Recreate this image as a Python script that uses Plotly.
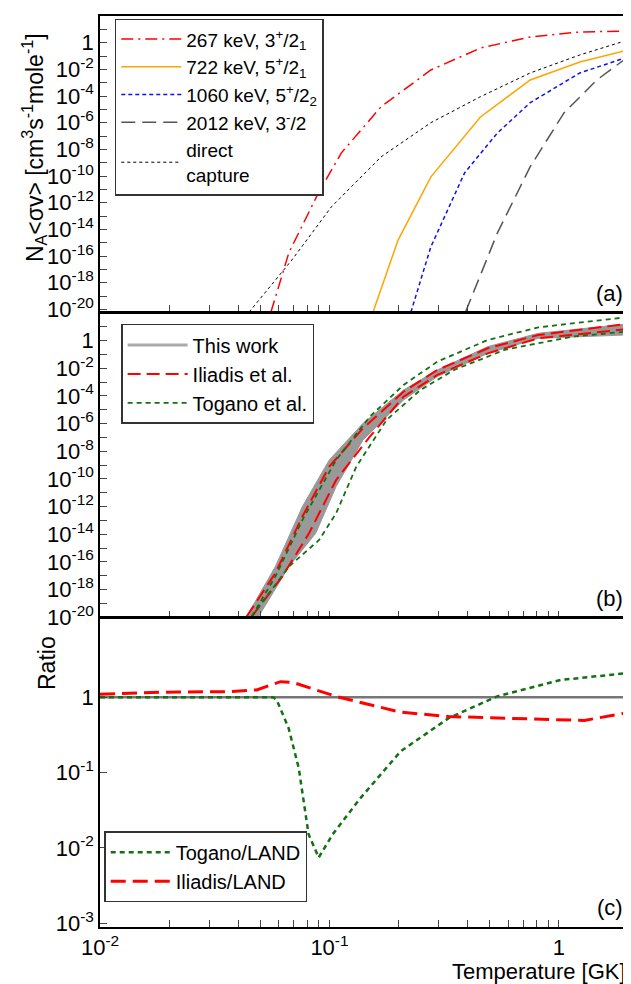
import numpy as np
import plotly.graph_objects as go

# ---- data (log10 T [GK], log10 rate) ----
# panel (a): resonance contributions
r267_logT = [-1.255, -1.177, -1.048, -0.948, -0.775, -0.558, -0.342, -0.125, 0.091, 0.301]
r267_logy = [-20.2, -15.75, -11.26, -8.26, -4.8, -2.05, -0.4, 0.43, 0.8, 0.88]
r722_logT = [-0.81, -0.701, -0.558, -0.342, -0.125, 0.091, 0.301]
r722_logy = [-20.2, -14.8, -10.06, -5.57, -2.8, -1.45, -0.55]
r1060_logT = [-0.645, -0.558, -0.411, -0.268, -0.125, 0.091, 0.301]
r1060_logy = [-20.2, -15.3, -9.76, -6.77, -4.5, -2.27, -1.07]
r2012_logT = [-0.407, -0.268, -0.125, 0.022, 0.165, 0.301]
r2012_logy = [-20.2, -14.26, -9.3, -5.27, -2.8, -1.07]
dc_logT = [-1.35, -1.164, -0.991, -0.775, -0.558, -0.342, -0.125, 0.091, 0.301]
dc_logy = [-20.2, -16.3, -12.3, -8.56, -6.0, -4.05, -2.27, -0.92, 0.2]

# panel (b): total rates
band_hi_logT = [-1.361, -1.236, -1.118, -1.001, -0.854, -0.677, -0.530, -0.310, -0.090, 0.292]
band_hi_logy = [-19.95, -16.34, -12.0, -8.63, -5.98, -3.57, -2.12, -0.43, 0.53, 1.20]
band_lo_logT = [-1.309, -1.177, -1.060, -0.971, -0.854, -0.677, -0.530, -0.310, -0.090, 0.292]
band_lo_logy = [-19.95, -16.34, -13.93, -10.55, -7.18, -4.29, -2.60, -0.92, 0.17, 0.41]
ili_hi_logT = [-1.361, -1.236, -1.118, -1.001, -0.854, -0.677, -0.530, -0.310, -0.090, 0.292]
ili_hi_logy = [-19.95, -16.82, -12.72, -9.11, -6.34, -3.69, -2.12, -0.55, 0.41, 1.20]
ili_lo_logT = [-1.339, -1.206, -1.089, -0.971, -0.824, -0.677, -0.530, -0.310, -0.090, 0.292]
ili_lo_logy = [-19.95, -17.06, -13.93, -10.07, -6.94, -4.05, -2.48, -0.92, 0.17, 0.82]
tog_lo_logT = [-1.339, -1.177, -1.045, -0.971, -0.883, -0.751, -0.604, -0.457, -0.237, 0.057, 0.292]
tog_lo_logy = [-19.95, -16.34, -14.41, -12.48, -9.11, -5.73, -3.57, -2.12, -0.67, 0.29, 0.65]
tog_hi_logT = [-1.339, -1.236, -1.118, -0.971, -0.824, -0.677, -0.530, -0.310, -0.090, 0.292]
tog_hi_logy = [-19.95, -17.06, -12.96, -8.63, -5.49, -3.20, -1.52, 0.05, 0.96, 1.69]

# panel (c): ratios
ratio_ili_logT = [-2.0, -1.735, -1.439, -1.317, -1.213, -1.160, -0.969, -0.690, -0.481, -0.254, 0.111, 0.286]
ratio_ili_logy = [0.040, 0.066, 0.075, 0.097, 0.207, 0.198, 0.009, -0.198, -0.256, -0.278, -0.308, -0.211]
ratio_tog_logT = [-2.0, -1.247, -1.230, -1.178, -1.134, -1.091, -1.047, -0.986, -0.864, -0.690, -0.481, -0.272, 0.007, 0.286]
ratio_tog_logy = [0.0, 0.0, -0.035, -0.410, -0.938, -1.819, -2.128, -1.819, -1.335, -0.718, -0.278, 0.009, 0.229, 0.317]


def p(v):
    return 10 ** np.array(v)


fig = go.Figure()
FONT = "Liberation Sans, Arial, sans-serif"

# (a)
res_a = [
    (r267_logT, r267_logy, "267 keV, 3<sup>+</sup>/2<sub>1</sub>", dict(color="red", width=1.5, dash="12px,5px,2px,5px")),
    (r722_logT, r722_logy, "722 keV, 5<sup>+</sup>/2<sub>1</sub>", dict(color="#ffa500", width=1.5)),
    (r1060_logT, r1060_logy, "1060 keV, 5<sup>+</sup>/2<sub>2</sub>", dict(color="#1010ee", width=1.5, dash="4px,3px")),
    (r2012_logT, r2012_logy, "2012 keV, 3<sup>-</sup>/2", dict(color="#555555", width=1.5, dash="14px,7px")),
    (dc_logT, dc_logy, "direct<br>capture", dict(color="black", width=1, dash="dot")),
]
for i, (lx, ly, nm, ln) in enumerate(res_a):
    fig.add_trace(go.Scatter(x=p(lx), y=p(ly), mode="lines", name=nm, line=ln, legend="legend",
                             legendgroup="a%d" % i, xaxis="x", yaxis="y"))

# (b)
fig.add_trace(go.Scatter(x=p(band_hi_logT), y=p(band_hi_logy), mode="lines", line=dict(color="#999999", width=1),
                         showlegend=False, xaxis="x2", yaxis="y2"))
fig.add_trace(go.Scatter(x=p(band_lo_logT), y=p(band_lo_logy), mode="lines", line=dict(color="#999999", width=1),
                         fill="tonexty", fillcolor="#999999", showlegend=False, xaxis="x2", yaxis="y2"))
fig.add_trace(go.Scatter(x=[None], y=[None], mode="lines", name="This work", line=dict(color="#aaaaaa", width=3),
                         legend="legend2", xaxis="x2", yaxis="y2"))
fig.add_trace(go.Scatter(x=p(ili_hi_logT), y=p(ili_hi_logy), mode="lines", name="Iliadis et al.",
                         line=dict(color="red", width=2, dash="13px,6px"), legend="legend2", xaxis="x2", yaxis="y2"))
fig.add_trace(go.Scatter(x=p(ili_lo_logT), y=p(ili_lo_logy), mode="lines", showlegend=False,
                         line=dict(color="red", width=2, dash="13px,6px"), xaxis="x2", yaxis="y2"))
fig.add_trace(go.Scatter(x=p(tog_hi_logT), y=p(tog_hi_logy), mode="lines", name="Togano et al.",
                         line=dict(color="#137013", width=1.8, dash="5px,4px"), legend="legend2", xaxis="x2", yaxis="y2"))
fig.add_trace(go.Scatter(x=p(tog_lo_logT), y=p(tog_lo_logy), mode="lines", showlegend=False,
                         line=dict(color="#137013", width=1.8, dash="5px,4px"), xaxis="x2", yaxis="y2"))

# (c)
fig.add_trace(go.Scatter(x=[0.01, 2], y=[1, 1], mode="lines", line=dict(color="#777777", width=2.5),
                         showlegend=False, xaxis="x3", yaxis="y3"))
fig.add_trace(go.Scatter(x=p(ratio_tog_logT), y=p(ratio_tog_logy), mode="lines", name="Togano/LAND",
                         line=dict(color="#137013", width=2.5, dash="5px,4px"), legend="legend3", xaxis="x3", yaxis="y3"))
fig.add_trace(go.Scatter(x=p(ratio_ili_logT), y=p(ratio_ili_logy), mode="lines", name="Iliadis/LAND",
                         line=dict(color="red", width=3, dash="15px,7px"), legend="legend3", xaxis="x3", yaxis="y3"))


def ylabels(lo, hi, step=2):
    vals, txt = [], []
    for e in range(lo, hi + 1):
        vals.append(10.0 ** e)
        if e % step:
            txt.append("")
        elif e == 0:
            txt.append("1")
        else:
            txt.append("10<sup>%d</sup>" % e)
    return vals, txt


xt_vals = [0.01, 0.02, 0.03, 0.04, 0.05, 0.06, 0.07, 0.08, 0.09, 0.1, 0.2, 0.3, 0.4, 0.5, 0.6, 0.7, 0.8, 0.9, 1, 2]
xt_text = ["10<sup>-2</sup>"] + [""] * 8 + ["10<sup>-1</sup>"] + [""] * 8 + ["1", ""]

axis_common = dict(type="log", showgrid=False, zeroline=False, ticks="inside", ticklen=7, showline=True,
                   linecolor="black", linewidth=1.5, mirror=True, tickfont=dict(size=22, color="black", family=FONT))
xax = dict(axis_common, range=[-2, np.log10(2)], tickvals=xt_vals)

dom_a = [0.675, 1.0]
dom_b = [0.340, 0.674]
dom_c = [0.0, 0.339]

ya_v, ya_t = ylabels(-20, 2)
yb_v, yb_t = ylabels(-20, 1)
yc_v, yc_t = ylabels(-3, 0, 1)

leg_box = dict(xanchor="left", yanchor="top", bordercolor="#333", borderwidth=1.5, bgcolor="white",
               traceorder="normal", itemwidth=60)

fig.update_layout(
    width=623, height=976, plot_bgcolor="white", paper_bgcolor="white",
    margin=dict(l=92, r=1, t=8, b=57),
    font=dict(family=FONT, color="black"),
    xaxis=dict(xax, anchor="y", ticktext=[""] * len(xt_vals)),
    xaxis2=dict(xax, anchor="y2", ticktext=[""] * len(xt_vals)),
    xaxis3=dict(xax, anchor="y3", ticktext=xt_text),
    yaxis=dict(axis_common, domain=dom_a, range=[-20.2, 2], tickvals=ya_v, ticktext=ya_t, anchor="x"),
    yaxis2=dict(axis_common, domain=dom_b, range=[-20, 2], tickvals=yb_v, ticktext=yb_t, anchor="x2"),
    yaxis3=dict(axis_common, domain=dom_c, range=[-3.05, 1.05], tickvals=yc_v, ticktext=yc_t, anchor="x3"),
    legend=dict(leg_box, x=0.028, y=0.997, font=dict(size=19), tracegroupgap=32),
    legend2=dict(leg_box, x=0.04, y=0.662, font=dict(size=20)),
    legend3=dict(leg_box, x=0.008, y=0.105, font=dict(size=20), tracegroupgap=10),
    showlegend=True,
)

ann = [
    dict(text="(a)", x=0.995, y=dom_a[0] + 0.005, xanchor="right", yanchor="bottom", font=dict(size=22)),
    dict(text="(b)", x=0.995, y=dom_b[0] + 0.005, xanchor="right", yanchor="bottom", font=dict(size=22)),
    dict(text="(c)", x=0.995, y=dom_c[0] + 0.005, xanchor="right", yanchor="bottom", font=dict(size=22)),
    dict(text="N<sub>A</sub><σv> [cm<sup>3</sup>s<sup>-1</sup>mole<sup>-1</sup>]", x=-0.125, y=0.855,
         xanchor="center", yanchor="middle", textangle=-90, font=dict(size=23)),
    dict(text="Ratio", x=-0.1, y=0.29, xanchor="center", yanchor="middle", textangle=-90, font=dict(size=23)),
    dict(text="Temperature [GK]", x=1.0, y=-0.033, xanchor="right", yanchor="top", font=dict(size=22)),
]
for a in ann:
    a.update(xref="paper", yref="paper", showarrow=False)
fig.update_layout(annotations=ann)

fig.write_html("out.html")
